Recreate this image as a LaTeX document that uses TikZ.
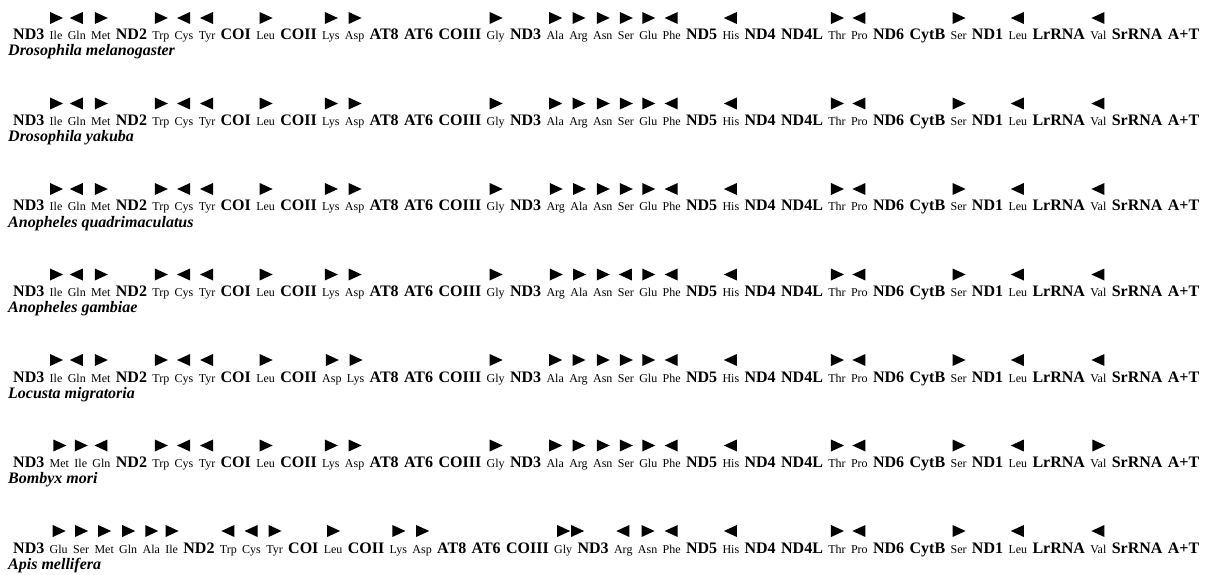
\documentclass[tikz,border=0pt]{standalone}
\usepackage{fontspec}
\setmainfont{Liberation Serif}
\usetikzlibrary{positioning}

% one row of genes: #1 name, #2 baseline, #3 genes, #4 species
\newcommand{\generow}[4]{%
  \foreach \lab/\kind/\dir [count=\i, remember=\i as \j (initially 0)] in {#3} {
    \ifnum\i=1
      \node[\kind, anchor=base west] (#1\i) at (13pt,#2) {\lab};
    \else
      \node[\kind, base right=5pt of #1\j] (#1\i) {\lab};
    \fi
    \pic at ([yshift=22pt]#1\i.base) {arr-\dir};
  }
  \node[species] (#1sp) at (8pt,#2) [yshift=-16pt] {#4};
}

\tikzset{
  pics/arr-r/.style={code={\fill (-6pt,-6pt) -- (7pt,0pt) -- (-6pt,6pt) -- cycle;}},
  pics/arr-l/.style={code={\fill (6pt,-6pt) -- (-7pt,0pt) -- (6pt,6pt) -- cycle;}},
  pics/arr-d/.style={code={\fill (-6pt,-6pt) -- (7pt,0pt) -- (-6pt,6pt) -- cycle;
                           \fill (8pt,-6pt) -- (21pt,0pt) -- (8pt,6pt) -- cycle;}},
  pics/arr-n/.style={code={}},
}

\begin{document}
\begin{tikzpicture}[
    gen/.style={inner sep=0pt, font=\bfseries\fontsize{16}{18}\selectfont},
    trn/.style={inner sep=0pt, font=\fontsize{12}{14}\selectfont},
    species/.style={inner sep=0pt, anchor=base west, font=\bfseries\itshape\fontsize{16}{18}\selectfont}]
  \useasboundingbox (0,0) rectangle (1220pt,574pt);

  \generow{mel}{534pt}{ND3/gen/n, Ile/trn/r, Gln/trn/l, Met/trn/r, ND2/gen/n, Trp/trn/r, Cys/trn/l, Tyr/trn/l,
    COI/gen/n, Leu/trn/r, COII/gen/n, Lys/trn/r, Asp/trn/r, AT8/gen/n, AT6/gen/n, COIII/gen/n, Gly/trn/r,
    ND3/gen/n, Ala/trn/r, Arg/trn/r, Asn/trn/r, Ser/trn/r, Glu/trn/r, Phe/trn/l, ND5/gen/n, His/trn/l,
    ND4/gen/n, ND4L/gen/n, Thr/trn/r, Pro/trn/l, ND6/gen/n, CytB/gen/n, Ser/trn/r, ND1/gen/n, Leu/trn/l,
    LrRNA/gen/n, Val/trn/l, SrRNA/gen/n, A+T/gen/n}{Drosophila melanogaster}

  \generow{yak}{448.5pt}{ND3/gen/n, Ile/trn/r, Gln/trn/l, Met/trn/r, ND2/gen/n, Trp/trn/r, Cys/trn/l, Tyr/trn/l,
    COI/gen/n, Leu/trn/r, COII/gen/n, Lys/trn/r, Asp/trn/r, AT8/gen/n, AT6/gen/n, COIII/gen/n, Gly/trn/r,
    ND3/gen/n, Ala/trn/r, Arg/trn/r, Asn/trn/r, Ser/trn/r, Glu/trn/r, Phe/trn/l, ND5/gen/n, His/trn/l,
    ND4/gen/n, ND4L/gen/n, Thr/trn/r, Pro/trn/l, ND6/gen/n, CytB/gen/n, Ser/trn/r, ND1/gen/n, Leu/trn/l,
    LrRNA/gen/n, Val/trn/l, SrRNA/gen/n, A+T/gen/n}{Drosophila yakuba}

  \generow{qua}{363pt}{ND3/gen/n, Ile/trn/r, Gln/trn/l, Met/trn/r, ND2/gen/n, Trp/trn/r, Cys/trn/l, Tyr/trn/l,
    COI/gen/n, Leu/trn/r, COII/gen/n, Lys/trn/r, Asp/trn/r, AT8/gen/n, AT6/gen/n, COIII/gen/n, Gly/trn/r,
    ND3/gen/n, Arg/trn/r, Ala/trn/r, Asn/trn/r, Ser/trn/r, Glu/trn/r, Phe/trn/l, ND5/gen/n, His/trn/l,
    ND4/gen/n, ND4L/gen/n, Thr/trn/r, Pro/trn/l, ND6/gen/n, CytB/gen/n, Ser/trn/r, ND1/gen/n, Leu/trn/l,
    LrRNA/gen/n, Val/trn/l, SrRNA/gen/n, A+T/gen/n}{Anopheles quadrimaculatus}

  \generow{gam}{277.5pt}{ND3/gen/n, Ile/trn/r, Gln/trn/l, Met/trn/r, ND2/gen/n, Trp/trn/r, Cys/trn/l, Tyr/trn/l,
    COI/gen/n, Leu/trn/r, COII/gen/n, Lys/trn/r, Asp/trn/r, AT8/gen/n, AT6/gen/n, COIII/gen/n, Gly/trn/r,
    ND3/gen/n, Arg/trn/r, Ala/trn/r, Asn/trn/r, Ser/trn/l, Glu/trn/r, Phe/trn/l, ND5/gen/n, His/trn/l,
    ND4/gen/n, ND4L/gen/n, Thr/trn/r, Pro/trn/l, ND6/gen/n, CytB/gen/n, Ser/trn/r, ND1/gen/n, Leu/trn/l,
    LrRNA/gen/n, Val/trn/l, SrRNA/gen/n, A+T/gen/n}{Anopheles gambiae}

  \generow{loc}{192pt}{ND3/gen/n, Ile/trn/r, Gln/trn/l, Met/trn/r, ND2/gen/n, Trp/trn/r, Cys/trn/l, Tyr/trn/l,
    COI/gen/n, Leu/trn/r, COII/gen/n, Asp/trn/r, Lys/trn/r, AT8/gen/n, AT6/gen/n, COIII/gen/n, Gly/trn/r,
    ND3/gen/n, Ala/trn/r, Arg/trn/r, Asn/trn/r, Ser/trn/r, Glu/trn/r, Phe/trn/l, ND5/gen/n, His/trn/l,
    ND4/gen/n, ND4L/gen/n, Thr/trn/r, Pro/trn/l, ND6/gen/n, CytB/gen/n, Ser/trn/r, ND1/gen/n, Leu/trn/l,
    LrRNA/gen/n, Val/trn/l, SrRNA/gen/n, A+T/gen/n}{Locusta migratoria}

  \generow{bom}{106.5pt}{ND3/gen/n, Met/trn/r, Ile/trn/r, Gln/trn/l, ND2/gen/n, Trp/trn/r, Cys/trn/l, Tyr/trn/l,
    COI/gen/n, Leu/trn/r, COII/gen/n, Lys/trn/r, Asp/trn/r, AT8/gen/n, AT6/gen/n, COIII/gen/n, Gly/trn/r,
    ND3/gen/n, Ala/trn/r, Arg/trn/r, Asn/trn/r, Ser/trn/r, Glu/trn/r, Phe/trn/l, ND5/gen/n, His/trn/l,
    ND4/gen/n, ND4L/gen/n, Thr/trn/r, Pro/trn/l, ND6/gen/n, CytB/gen/n, Ser/trn/r, ND1/gen/n, Leu/trn/l,
    LrRNA/gen/n, Val/trn/r, SrRNA/gen/n, A+T/gen/n}{Bombyx mori}

  \generow{api}{21pt}{ND3/gen/n, Glu/trn/r, Ser/trn/r, Met/trn/r, Gln/trn/r, Ala/trn/r, Ile/trn/r, ND2/gen/n,
    Trp/trn/l, Cys/trn/l, Tyr/trn/r, COI/gen/n, Leu/trn/r, COII/gen/n, Lys/trn/r, Asp/trn/r, AT8/gen/n,
    AT6/gen/n, COIII/gen/n, Gly/trn/d, ND3/gen/n, Arg/trn/l, Asn/trn/r, Phe/trn/l, ND5/gen/n, His/trn/l,
    ND4/gen/n, ND4L/gen/n, Thr/trn/r, Pro/trn/l, ND6/gen/n, CytB/gen/n, Ser/trn/r, ND1/gen/n, Leu/trn/l,
    LrRNA/gen/n, Val/trn/l, SrRNA/gen/n, A+T/gen/n}{Apis mellifera}
\end{tikzpicture}
\end{document}
